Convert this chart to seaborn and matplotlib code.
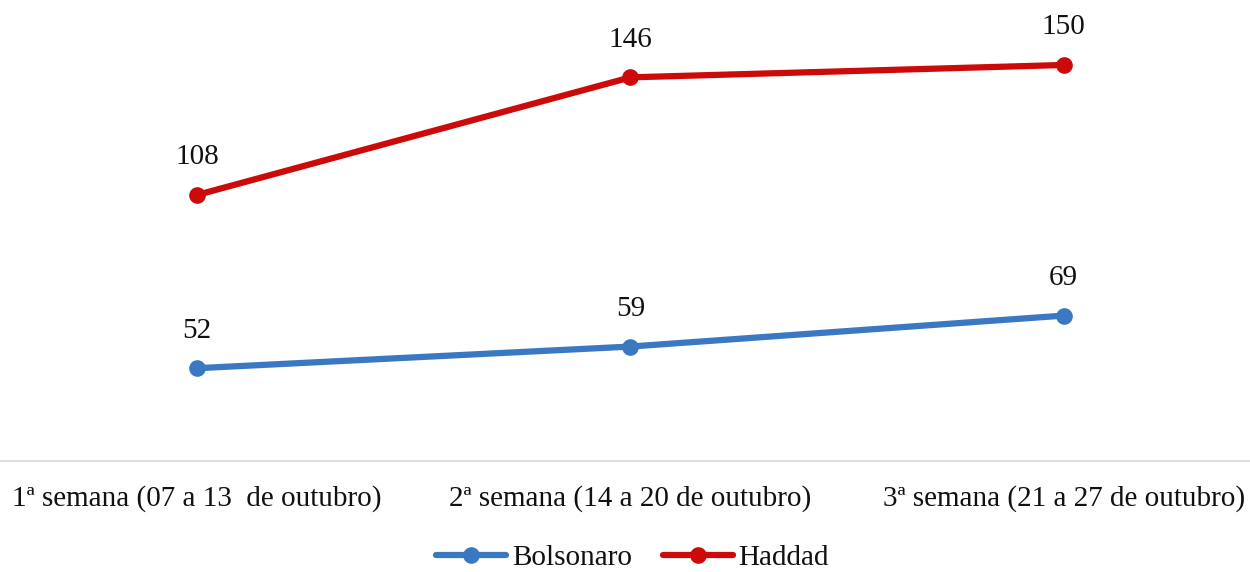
import seaborn as sns
import matplotlib.pyplot as plt
import pandas as pd

semanas = [
    "1ª semana (07 a 13  de outubro)",
    "2ª semana (14 a 20 de outubro)",
    "3ª semana (21 a 27 de outubro)",
]
bolsonaro = [52, 59, 69]
haddad = [108, 146, 150]

cores = {"Bolsonaro": "#3b78c2", "Haddad": "#cc0a0a"}

df = pd.DataFrame({
    "semana": list(range(3)) * 2,
    "valor": bolsonaro + haddad,
    "candidato": ["Bolsonaro"] * 3 + ["Haddad"] * 3,
})

sns.set_theme(style="white")
plt.rcParams["font.family"] = ["Liberation Serif", "DejaVu Serif"]

fig = plt.figure(figsize=(12.5, 5.72), dpi=100)
ax = fig.add_axes([0.0, 0.194, 1.0, 0.806])

sns.lineplot(
    data=df, x="semana", y="valor", hue="candidato",
    palette=cores, marker="o", markersize=12, markeredgewidth=0,
    linewidth=4.5, ax=ax, legend=True,
)

# rótulos de valor
for _, row in df.iterrows():
    ax.annotate(
        f"{row['valor']:.0f}", (row["semana"], row["valor"]),
        xytext=(0, 27), textcoords="offset points",
        ha="center", va="center", fontsize=21, color="#111111",
    )

ax.set_xlim(-0.455, 2.43)
ax.set_ylim(22, 171)
ax.set_xticks(range(3))
ax.set_xticklabels(semanas, fontsize=21, color="#111111")
ax.tick_params(axis="x", length=0, pad=17)
ax.set_yticks([])
ax.set_xlabel("")
ax.set_ylabel("")
for s in ["top", "left", "right"]:
    ax.spines[s].set_visible(False)
ax.spines["bottom"].set_color("#d9d9d9")
ax.spines["bottom"].set_linewidth(1.2)

handles, labels = ax.get_legend_handles_labels()
ax.legend_.remove()
fig.legend(
    handles, labels, loc="center", bbox_to_anchor=(0.506, 0.024),
    ncol=2, frameon=False, fontsize=21, handlelength=2.4,
    handletextpad=0.2, columnspacing=1.05, labelcolor="#111111",
)

fig.savefig("out.png", dpi=100, facecolor="white")
